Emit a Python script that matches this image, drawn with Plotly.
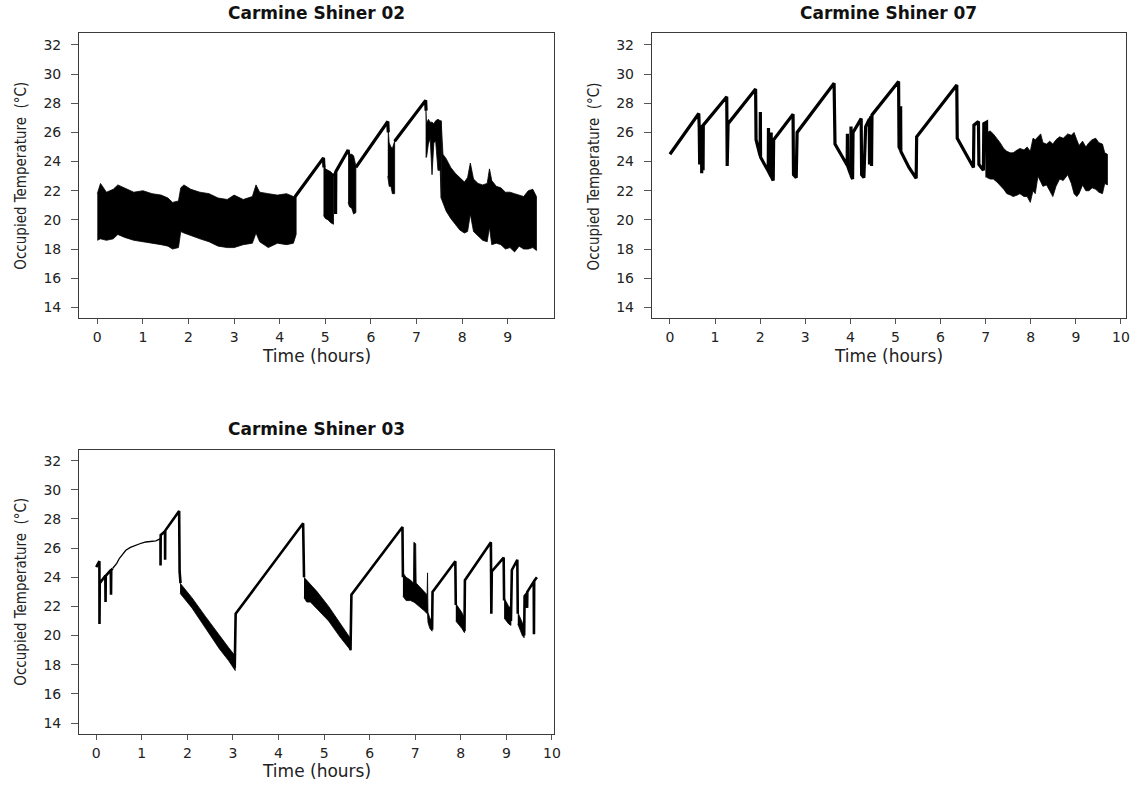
import plotly.graph_objects as go

W, H = 1140, 786

# ---------------- Panel 1 : Carmine Shiner 02 ----------------
p1_xticks = [0, 1, 2, 3, 4, 5, 6, 7, 8, 9]
p1_bandA_t = [0.00, 0.07, 0.20, 0.35, 0.45, 0.60, 0.80, 1.00, 1.20, 1.40, 1.55, 1.65, 1.78, 1.83, 1.90,
              2.05, 2.25, 2.45, 2.65, 2.85, 3.00, 3.20, 3.40, 3.48, 3.56, 3.75, 3.95, 4.15, 4.30, 4.36]
p1_bandA_hi = [21.8, 22.5, 21.9, 22.1, 22.4, 22.2, 21.9, 22.0, 21.8, 21.7, 21.5, 21.2, 21.3, 22.2, 22.4,
               22.1, 21.9, 21.8, 21.5, 21.4, 21.7, 21.4, 21.6, 22.4, 21.9, 21.8, 21.7, 21.8, 21.6, 21.7]
p1_bandA_lo = [18.6, 18.7, 18.6, 18.7, 19.0, 18.8, 18.6, 18.5, 18.4, 18.3, 18.2, 18.0, 18.1, 19.2, 19.1,
               18.9, 18.7, 18.5, 18.2, 18.1, 18.1, 18.3, 18.4, 19.1, 18.5, 18.1, 18.4, 18.3, 18.4, 19.0]
p1_bandB_t = [4.96, 5.00, 5.06, 5.12, 5.18]
p1_bandB_hi = [24.2, 23.5, 23.4, 23.3, 23.1]
p1_bandB_lo = [20.3, 20.1, 20.0, 19.8, 19.7]
p1_bandC_t = [5.50, 5.53, 5.58, 5.62, 5.67]
p1_bandC_hi = [24.8, 24.5, 24.5, 24.4, 23.7]
p1_bandC_lo = [21.2, 20.9, 20.8, 20.4, 20.5]
p1_bandD_t = [6.37, 6.40, 6.44, 6.47, 6.52]
p1_bandD_hi = [26.7, 25.3, 25.0, 24.9, 25.4]
p1_bandD_lo = [23.0, 22.3, 22.3, 21.8, 21.8]
p1_bandE_t = [7.20, 7.22, 7.26, 7.30, 7.34, 7.38, 7.42, 7.47, 7.52, 7.54]
p1_bandE_hi = [28.2, 26.6, 26.9, 26.7, 26.7, 26.6, 26.8, 26.9, 26.8, 26.8]
p1_bandE_lo = [24.3, 24.3, 25.2, 25.6, 23.1, 25.3, 25.4, 23.4, 23.4, 21.5]
p1_bandF_t = [7.54, 7.58, 7.65, 7.75, 7.85, 7.95, 8.05, 8.12, 8.18, 8.25, 8.35, 8.45, 8.55,
              8.60, 8.65, 8.75, 8.85, 8.95, 9.05, 9.15, 9.25, 9.35, 9.45, 9.55, 9.63]
p1_bandF_hi = [26.8, 24.5, 24.2, 23.6, 23.2, 22.9, 22.6, 22.9, 23.9, 22.8, 22.5, 22.4, 22.5,
               23.5, 22.7, 22.3, 22.2, 21.9, 21.9, 21.8, 21.7, 21.6, 22.0, 22.1, 21.6]
p1_bandF_lo = [21.5, 21.2, 20.6, 20.1, 19.7, 19.3, 19.1, 19.2, 20.4, 19.2, 18.9, 18.6, 18.5,
               19.5, 18.3, 18.4, 18.3, 18.0, 18.1, 17.8, 18.2, 18.0, 18.0, 18.1, 17.9]
p1_line_t = [4.34, 4.96, 4.97, None, 5.18, 5.22, 5.225, 5.23, 5.50, 5.51, None,
             5.67, 6.37, 6.38, None, 6.52, 7.20, 7.21]
p1_line_v = [21.6, 24.25, 23.6, None, 23.0, 23.2, 20.4, 23.3, 24.8, 24.5, None,
             23.6, 26.75, 26.0, None, 25.4, 28.2, 27.5]

# ---------------- Panel 2 : Carmine Shiner 07 ----------------
p2_xticks = [0, 1, 2, 3, 4, 5, 6, 7, 8, 9, 10]
p2_line_t = [0.00, 0.64, 0.65, 0.66, 0.665, 0.70, 0.705, 0.71, 0.73, 0.735, 0.74,
             1.26, 1.27, 1.29, 1.90, 1.91, 1.97, 2.00, 2.005, 2.01, 2.08, 2.18, 2.185, 2.19,
             2.24, 2.245, 2.25, 2.29, 2.30, 2.73, 2.74, 2.80, 2.82, 3.64, 3.66, 3.80, 3.93,
             3.935, 3.94, 4.01, 4.015, 4.02, 4.05, 4.06, 4.24, 4.25, 4.30, 4.34, 4.42, 4.425,
             4.43, 4.46, 4.47, 4.48, 5.07, 5.08, 5.11, 5.115, 5.12, 5.30, 5.46, 5.47, 6.36,
             6.37, 6.50, 6.63, 6.73, 6.74, 6.84, 6.85, 6.95, 6.96, 7.02, 7.03]
p2_line_v = [24.5, 27.3, 26.3, 23.8, 26.3, 26.35, 23.2, 26.4, 26.45, 23.4, 26.5,
             28.45, 23.7, 26.6, 28.98, 25.5, 24.7, 24.4, 27.4, 24.3, 23.9, 23.35, 26.3, 23.3,
             23.0, 26.0, 22.95, 22.7, 25.5, 27.25, 23.1, 22.9, 26.0, 29.37, 25.2, 24.45, 23.75,
             25.9, 23.7, 23.1, 26.4, 23.0, 22.8, 26.0, 26.95, 23.1, 22.9, 26.4, 26.9, 23.8,
             26.9, 27.1, 23.7, 27.2, 29.5, 25.0, 24.8, 27.8, 24.7, 23.6, 22.85, 25.7, 29.26,
             25.6, 24.85, 24.2, 23.6, 26.5, 26.75, 23.8, 23.4, 26.6, 26.7, 22.9]
p2_band_t = [7.03, 7.10, 7.17, 7.25, 7.32, 7.40, 7.47, 7.55, 7.61, 7.70, 7.76, 7.85, 7.92,
             7.99, 8.05, 8.10, 8.16, 8.22, 8.27, 8.35, 8.42, 8.49, 8.56, 8.64, 8.72, 8.82,
             8.90, 8.96, 9.02, 9.07, 9.15, 9.22, 9.29, 9.36, 9.44, 9.51, 9.59, 9.64, 9.70]
p2_band_hi = [26.0, 26.1, 25.9, 25.6, 25.3, 24.9, 24.7, 24.6, 24.6, 24.8, 24.9, 24.8, 25.0,
              24.7, 25.6, 25.5, 25.7, 25.9, 25.3, 25.2, 25.4, 25.2, 25.5, 25.7, 25.6, 25.9,
              25.8, 26.0, 25.5, 25.1, 25.4, 25.0, 25.3, 25.5, 25.6, 25.3, 25.2, 24.6, 24.5]
p2_band_lo = [22.9, 22.8, 22.8, 22.6, 22.4, 22.1, 21.8, 21.7, 21.6, 21.7, 21.8, 21.6, 21.6,
              21.2, 22.0, 21.8, 23.0, 22.6, 22.3, 22.4, 22.0, 21.6, 22.3, 22.8, 22.7, 23.1,
              22.5, 21.8, 21.6, 21.8, 22.4, 22.0, 22.0, 22.2, 22.1, 21.9, 21.8, 22.5, 22.4]

# ---------------- Panel 3 : Carmine Shiner 03 ----------------
p3_xticks = [0, 1, 2, 3, 4, 5, 6, 7, 8, 9, 10]
p3_line_t = [0.00, 0.07, 0.072, 0.078, 0.20, 0.205, 0.21, 0.32, 0.325, 0.33, 0.36, None,
             1.41, 1.412, 1.415, 1.51, 1.512, 1.515, 1.82, 1.83, 1.85, None,
             3.04, 3.06, 4.54, 4.56, None, 5.58, 5.60, 6.72, 6.73, None,
             7.37, 7.38, 7.88, 7.89, None, 8.08, 8.09, 8.66, 8.67, 8.68, 8.94, 8.95, None,
             9.10, 9.12, 9.24, 9.25, None, 9.39, 9.40, 9.45, 9.455, 9.46, 9.60, 9.605, 9.61, 9.67]
p3_line_v = [24.7, 25.1, 20.8, 23.6, 24.1, 22.3, 24.1, 24.5, 22.8, 24.5, 24.6, None,
             26.65, 24.8, 26.9, 27.15, 25.2, 27.2, 28.55, 24.4, 23.6, None,
             17.8, 21.5, 27.7, 24.0, None, 19.0, 22.8, 27.45, 24.0, None,
             20.4, 23.0, 25.1, 22.1, None, 20.3, 23.8, 26.4, 21.5, 24.4, 25.35, 22.4, None,
             21.0, 24.5, 25.2, 21.5, None, 20.0, 22.7, 22.9, 21.9, 23.0, 23.7, 20.1, 23.75, 24.0]
p3_curve_t = [0.36, 0.45, 0.51, 0.58, 0.65, 0.75, 0.87, 1.00, 1.09, 1.20, 1.31, 1.41]
p3_curve_v = [24.6, 24.95, 25.3, 25.6, 25.85, 26.05, 26.2, 26.35, 26.42, 26.47, 26.5, 26.65]
p3_band1_t = [1.84, 2.10, 2.40, 2.70, 2.90, 3.05]
p3_band1_hi = [23.6, 22.6, 21.3, 20.0, 19.2, 18.6]
p3_band1_lo = [22.9, 21.9, 20.5, 19.1, 18.3, 17.6]
p3_band2_t = [4.56, 4.62, 4.70, 4.85, 5.10, 5.35, 5.58]
p3_band2_hi = [24.0, 23.8, 23.5, 23.0, 22.0, 20.9, 19.8]
p3_band2_lo = [22.6, 22.3, 22.3, 21.8, 21.0, 19.9, 19.0]
p3_band3_t = [6.73, 6.80, 6.90, 6.96, 6.97, 7.01, 7.02, 7.10, 7.20, 7.26, 7.27, 7.28, 7.32, 7.37]
p3_band3_hi = [24.3, 24.0, 23.8, 23.6, 26.4, 26.3, 23.6, 23.3, 23.0, 22.8, 24.3, 21.6, 21.2, 21.0]
p3_band3_lo = [22.7, 22.4, 22.4, 22.3, 22.3, 22.2, 22.2, 22.0, 21.7, 21.5, 21.5, 20.9, 20.5, 20.3]
p3_band4_t = [7.89, 7.95, 8.02, 8.08]
p3_band4_hi = [22.2, 21.9, 21.6, 21.2]
p3_band4_lo = [21.0, 20.8, 20.5, 20.2]
p3_band5_t = [8.95, 9.00, 9.05, 9.10]
p3_band5_hi = [22.6, 22.3, 22.0, 21.9]
p3_band5_lo = [21.2, 21.0, 20.8, 20.7]
p3_band6_t = [9.25, 9.30, 9.35, 9.39]
p3_band6_hi = [21.6, 21.2, 20.9, 20.6]
p3_band6_lo = [20.8, 20.4, 20.0, 19.85]

y_ticks = [14, 16, 18, 20, 22, 24, 26, 28, 30, 32]
titles = ["Carmine Shiner 02", "Carmine Shiner 07", "Carmine Shiner 03"]
x_title = "Time (hours)"
y_title = "Occupied Temperature\u00a0 (\u00b0C)"

fig = go.Figure()


def band(t, lo, hi, xa, ya):
    fig.add_trace(go.Scatter(x=list(t) + list(t)[::-1], y=list(hi) + list(lo)[::-1],
                             fill="toself", fillcolor="black", mode="lines",
                             line=dict(color="black", width=0.8),
                             xaxis=xa, yaxis=ya, hoverinfo="skip", showlegend=False))


def line(t, v, xa, ya, w=3.2):
    fig.add_trace(go.Scatter(x=t, y=v, mode="lines", line=dict(color="black", width=w),
                             connectgaps=False, xaxis=xa, yaxis=ya, showlegend=False))


# panel 1
band(p1_bandA_t, p1_bandA_lo, p1_bandA_hi, "x", "y")
band(p1_bandB_t, p1_bandB_lo, p1_bandB_hi, "x", "y")
band(p1_bandC_t, p1_bandC_lo, p1_bandC_hi, "x", "y")
band(p1_bandD_t, p1_bandD_lo, p1_bandD_hi, "x", "y")
band(p1_bandE_t, p1_bandE_lo, p1_bandE_hi, "x", "y")
band(p1_bandF_t, p1_bandF_lo, p1_bandF_hi, "x", "y")
line(p1_line_t, p1_line_v, "x", "y")
# panel 2
line(p2_line_t, p2_line_v, "x2", "y2")
band(p2_band_t, p2_band_lo, p2_band_hi, "x2", "y2")
# panel 3
line(p3_line_t, p3_line_v, "x3", "y3", 2.6)
line(p3_curve_t, p3_curve_v, "x3", "y3", 1.3)
band(p3_band1_t, p3_band1_lo, p3_band1_hi, "x3", "y3")
band(p3_band2_t, p3_band2_lo, p3_band2_hi, "x3", "y3")
band(p3_band3_t, p3_band3_lo, p3_band3_hi, "x3", "y3")
band(p3_band4_t, p3_band4_lo, p3_band4_hi, "x3", "y3")
band(p3_band5_t, p3_band5_lo, p3_band5_hi, "x3", "y3")
band(p3_band6_t, p3_band6_lo, p3_band6_hi, "x3", "y3")


def xd(a, b):
    return [a / W, b / W]


def yd(top, bot):
    return [1 - bot / H, 1 - top / H]


tickfont = dict(family="DejaVu Sans, Arial, sans-serif", size=14, color="#222")
common = dict(showline=True, mirror=True, linecolor="#3a3a3a", linewidth=1.2,
              ticks="outside", tickcolor="#555", tickwidth=1, showgrid=False,
              zeroline=False, tickfont=tickfont, fixedrange=True)
xcommon = dict(common, ticklen=5, ticklabelstandoff=1)
ycommon = dict(common, ticklen=7, ticklabelstandoff=7, tickvals=y_ticks)

fig.update_layout(
    width=W, height=H, margin=dict(l=0, r=0, t=0, b=0),
    paper_bgcolor="white", plot_bgcolor="white", showlegend=False,
    xaxis=dict(xcommon, domain=xd(79.65, 557.2), range=[-0.398, 10.01], tickvals=p1_xticks, anchor="y"),
    yaxis=dict(ycommon, domain=yd(33.3, 317.7), range=[13.29, 32.8], anchor="x"),
    xaxis2=dict(xcommon, domain=xd(655.9, 1132.7), range=[-0.40, 10.106], tickvals=p2_xticks, anchor="y2"),
    yaxis2=dict(ycommon, domain=yd(33.3, 317.7), range=[13.29, 32.8], anchor="x2"),
    xaxis3=dict(xcommon, domain=xd(79.65, 557.2), range=[-0.374, 10.04], tickvals=p3_xticks, anchor="y3"),
    yaxis3=dict(ycommon, domain=yd(449.7, 733.7), range=[13.27, 32.75], anchor="x3"),
)

ann = []
title_font = dict(family="DejaVu Sans, Arial, sans-serif", size=17, color="#111", weight="bold")
axis_font = dict(family="DejaVu Sans, Arial, sans-serif", size=17, color="#222")
yfont = dict(family="Liberation Sans Narrow, DejaVu Sans Condensed, Arial Narrow, sans-serif", size=15, color="#222")
for (cx, ty, xy, yx, yy, txt) in [
    (318.4, 12.5, 356, 20.8, 176, titles[0]),
    (894.3, 12.5, 356, 598.1, 176, titles[1]),
    (318.4, 428.5, 771, 20.8, 592, titles[2]),
]:
    ann.append(dict(x=cx / W, y=1 - ty / H, xref="paper", yref="paper", text=txt, showarrow=False,
                    xanchor="center", yanchor="middle", font=title_font))
    ann.append(dict(x=cx / W, y=1 - xy / H, xref="paper", yref="paper", text=x_title, showarrow=False,
                    xanchor="center", yanchor="middle", font=axis_font))
    ann.append(dict(x=yx / W, y=1 - yy / H, xref="paper", yref="paper", text=y_title, showarrow=False,
                    xanchor="center", yanchor="middle", textangle=-90, font=yfont))
fig.update_layout(annotations=ann)

fig.write_html("out.html", config={"displayModeBar": False},
               post_script="document.body.style.margin='0px';")
